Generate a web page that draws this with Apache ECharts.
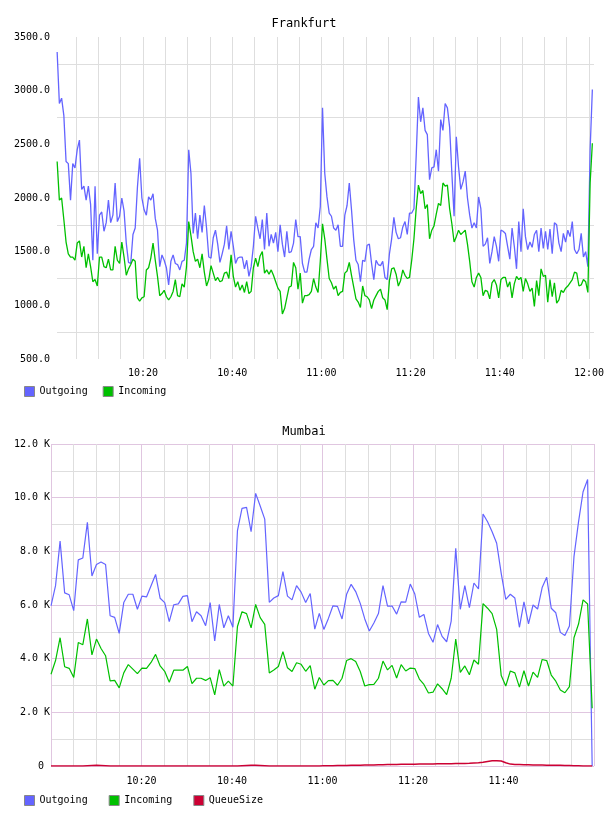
<!DOCTYPE html>
<html>
<head>
<meta charset="utf-8">
<script src="https://cdn.jsdelivr.net/npm/echarts@6/dist/echarts.min.js"></script>
<style>
  html, body { margin: 0; padding: 0; background: #fff; }
  #main { width: 608px; height: 816px; }
</style>
</head>
<body>
<div id="main"></div>
<script>
// x values are minutes after 10:00

// Frankfurt: a sample every 30 s, first one at 10:00:45
const frankStart = 0.75;
const frankStep = 0.5;
const frankOut = [
  3360,2880,2930,2770,2340,2320,1980,2320,2280,2450,
  2540,2080,2110,1980,2110,1940,1420,2110,1480,1840,
  1870,1690,1770,1980,1770,1840,2140,1780,1830,2000,
  1880,1580,1400,1390,1660,1720,2100,2370,2000,1890,
  1840,2010,1980,2040,1810,1700,1360,1470,1420,1350,
  1190,1410,1470,1390,1380,1330,1410,1420,1580,2450,
  2230,1670,1860,1620,1840,1680,1930,1720,1450,1440,
  1630,1700,1570,1400,1480,1570,1740,1520,1690,1550,
  1390,1440,1450,1450,1340,1420,1270,1360,1550,1830,
  1720,1620,1800,1520,1860,1550,1660,1580,1680,1500,
  1750,1570,1450,1690,1490,1500,1580,1800,1640,1640,
  1390,1310,1310,1430,1520,1550,1770,1720,1920,2840,
  2230,2010,1860,1830,1720,1700,1750,1550,1550,1840,
  1930,2140,1890,1610,1420,1380,1220,1420,1410,1560,
  1570,1390,1240,1420,1380,1370,1410,1260,1240,1480,
  1620,1820,1680,1620,1630,1730,1780,1660,1860,1860,
  1900,2390,2940,2710,2840,2630,2590,2170,2280,2290,
  2450,2250,2730,2630,2880,2840,2660,2230,1830,2570,
  2290,2080,2150,2250,2000,1840,1720,1770,1720,2010,
  1900,1550,1570,1630,1390,1500,1640,1550,1410,1700,
  1690,1670,1550,1430,1720,1550,1340,1780,1500,1900,
  1640,1520,1590,1540,1660,1700,1500,1720,1530,1690,
  1520,1710,1480,1770,1750,1580,1500,1670,1590,1700,
  1640,1780,1520,1480,1520,1670,1450,1500,1360,2450,
  3010
];
const frankIn = [
  2340,1980,2000,1800,1590,1480,1450,1450,1420,1580,
  1600,1450,1550,1350,1480,1360,1220,1240,1180,1450,
  1450,1360,1350,1430,1330,1330,1550,1420,1390,1590,
  1450,1280,1340,1380,1430,1410,1070,1040,1070,1080,
  1330,1350,1440,1580,1420,1270,1090,1110,1140,1080,
  1050,1080,1130,1240,1090,1080,1200,1170,1360,1780,
  1650,1500,1410,1430,1350,1480,1310,1180,1240,1370,
  1300,1230,1260,1220,1230,1300,1310,1250,1470,1270,
  1170,1220,1140,1190,1120,1220,1110,1130,1350,1440,
  1360,1460,1500,1300,1330,1290,1330,1280,1220,1160,
  1130,920,970,1070,1170,1180,1400,1350,1150,1300,
  1020,1090,1090,1100,1130,1250,1170,1120,1410,1760,
  1620,1430,1250,1210,1150,1180,1090,1120,1130,1300,
  1320,1400,1280,1170,1060,1030,980,1180,1090,1080,
  1050,970,1050,1090,1130,1150,1070,1050,960,1230,
  1340,1350,1290,1180,1230,1330,1280,1250,1260,1420,
  1620,1900,2120,2040,2070,1900,1940,1620,1700,1740,
  1850,1950,1930,2140,2110,2120,1900,1760,1590,1640,
  1700,1660,1680,1700,1570,1410,1220,1170,1260,1300,
  1260,1090,1140,1130,1060,1210,1240,1190,1070,1240,
  1260,1260,1170,1220,1070,1200,1270,1240,1260,1130,
  1250,1200,1130,1160,990,1230,1090,1340,1270,1280,
  1030,1240,1080,1210,1020,1050,1140,1120,1160,1180,
  1210,1240,1310,1300,1180,1190,1240,1220,1120,2140,
  2510
];

// Mumbai: a sample about every minute from 10:00
const mumbaiStart = 0;
const mumbaiStep = 1.005;
const mumbaiOut = [
  5970,6720,8380,6450,6380,5790,7680,7750,9080,7080,
  7510,7600,7510,5600,5540,4940,6090,6400,6400,5840,
  6330,6300,6720,7140,6250,6090,5380,6010,6040,6320,
  6350,5380,5750,5600,5230,6090,4660,6020,5150,5600,
  5170,8770,9600,9640,8730,10160,9690,9200,6100,6260,
  6350,7240,6330,6190,6720,6480,6090,6430,5100,5690,
  5090,5500,5970,5950,5480,6400,6770,6500,6060,5480,
  5030,5330,5680,6720,5960,5960,5660,6120,6110,6780,
  6410,5540,5650,4940,4610,5270,4830,4630,5400,8110,
  5840,6720,5900,6820,6600,9390,9100,8730,8300,7180,
  6210,6400,6260,5170,6120,5300,6000,5850,6650,7030,
  5880,5710,4980,4860,5220,7800,9100,10220,10680,0
];
const mumbaiIn = [
  3420,3930,4780,3700,3640,3300,4600,4520,5480,4140,
  4730,4380,4110,3170,3190,2910,3470,3780,3610,3440,
  3650,3640,3860,4160,3730,3530,3120,3570,3570,3570,
  3710,3070,3270,3270,3190,3290,2650,3590,2980,3160,
  2980,5200,5750,5680,5150,6020,5530,5280,3470,3580,
  3710,4260,3660,3520,3850,3790,3530,3740,2860,3300,
  3020,3180,3190,3010,3270,3930,4000,3890,3520,2980,
  3030,3040,3270,3910,3580,3750,3280,3780,3540,3650,
  3630,3240,3040,2720,2750,3060,2880,2660,3270,4730,
  3490,3730,3400,3950,3790,6050,5880,5680,5090,3370,
  2980,3540,3470,2940,3550,2980,3500,3300,3970,3930,
  3390,3160,2830,2730,2960,4780,5290,6190,6040,2150
];
const mumbaiQueue = [
  0,0,0,0,0,0,0,0,10,20,
  30,20,10,0,0,0,0,0,0,0,
  0,0,0,0,0,0,0,0,0,0,
  0,0,0,0,0,0,0,0,0,0,
  0,0,10,20,30,30,20,10,0,0,
  0,0,0,0,0,0,0,0,0,0,
  5,10,10,15,20,20,25,30,30,35,
  40,40,45,50,55,60,60,65,65,65,
  65,70,70,75,75,80,80,85,85,90,
  90,95,100,110,120,140,170,195,200,185,
  120,70,60,55,50,45,40,38,35,32,
  30,27,24,20,16,12,8,4,0,0
];

const frankTickMinutes = [5,10,15,20,25,30,35,40,45,50,55,60,65,70,75,80,85,90,95,100,105,110,115,120];
const frankLabelMinutes = [20, 40, 60, 80, 100, 120];
const mumbaiLabelMinutes = [20, 40, 60, 80, 100];

const FONT = 'DejaVu Sans Mono';
const GRAY = '#dedede';
const PINK = '#e0c6e0';
const BLUE = '#6464ff';
const GREEN = '#00c000';
const RED = '#cc0033';

function hhmm(m) {
  const h = 10 + Math.floor(m / 60);
  const mm = Math.round(m % 60);
  return h + ':' + String(mm).padStart(2, '0');
}
function pairs(start, step, arr) {
  return arr.map((v, i) => [start + i * step, v]);
}

const txt = { fontFamily: FONT, fontSize: 10, color: '#000' };

const myChart = echarts.init(document.getElementById('main'));
const option = {
  animation: false,
  textStyle: { fontFamily: FONT },
  title: [
    { text: 'Frankfurt', left: 'center', top: 13, textStyle: { fontFamily: FONT, fontSize: 12, fontWeight: 'normal', color: '#000' } },
    { text: 'Mumbai', left: 'center', top: 421, textStyle: { fontFamily: FONT, fontSize: 12, fontWeight: 'normal', color: '#000' } }
  ],
  legend: [
    {
      data: ['Outgoing', 'Incoming'], left: 24, top: 386, padding: 0, itemGap: 15,
      itemWidth: 10, itemHeight: 10, icon: 'rect', selectedMode: false,
      itemStyle: { borderColor: '#888', borderWidth: 1 }, textStyle: txt
    },
    {
      data: ['Outgoing', 'Incoming', 'QueueSize'], left: 24, top: 795, padding: 0, itemGap: 21,
      itemWidth: 10, itemHeight: 10, icon: 'rect', selectedMode: false,
      itemStyle: { borderColor: '#888', borderWidth: 1 }, textStyle: txt
    }
  ],
  grid: [
    { left: 57, right: 14, top: 37, height: 322 },
    { left: 51, right: 14, top: 444, height: 322 }
  ],
  xAxis: [
    {
      type: 'value', gridIndex: 0, min: 0.717, max: 121.12,
      axisLine: { show: false },
      axisTick: { show: false, customValues: frankTickMinutes },
      axisLabel: { customValues: frankLabelMinutes, formatter: hhmm, margin: 9, ...txt },
      splitLine: { show: true, lineStyle: { color: GRAY, width: 1 } }
    },
    {
      type: 'value', gridIndex: 1, min: 0, max: 120, interval: 5,
      axisLine: { show: false },
      axisTick: { show: false },
      axisLabel: { customValues: mumbaiLabelMinutes, formatter: hhmm, margin: 10, ...txt },
      splitLine: { show: true, lineStyle: { color: [PINK, GRAY, GRAY, GRAY], width: 1 } }
    }
  ],
  yAxis: [
    {
      type: 'value', gridIndex: 0, min: 500, max: 3500, interval: 250,
      axisLine: { show: false }, axisTick: { show: false },
      axisLabel: { formatter: v => (v % 500 === 0 ? v.toFixed(1) : ''), margin: 7, ...txt },
      splitLine: { show: true, lineStyle: { color: ['rgba(0,0,0,0)', GRAY], width: 1 } }
    },
    {
      type: 'value', gridIndex: 1, min: 0, max: 12000, interval: 1000,
      axisLine: { show: false }, axisTick: { show: false },
      axisLabel: {
        formatter: v => (v === 0 ? '0 ' : (v % 2000 === 0 ? (v / 1000).toFixed(1) + ' K' : '')),
        margin: 1, ...txt
      },
      splitLine: { show: true, lineStyle: { color: [PINK, GRAY], width: 1 } }
    }
  ],
  series: [
    { name: 'Outgoing', type: 'line', xAxisIndex: 0, yAxisIndex: 0, data: pairs(frankStart, frankStep, frankOut),
      symbol: 'none', color: BLUE, lineStyle: { width: 1.3, color: BLUE }, silent: true },
    { name: 'Incoming', type: 'line', xAxisIndex: 0, yAxisIndex: 0, data: pairs(frankStart, frankStep, frankIn),
      symbol: 'none', color: GREEN, lineStyle: { width: 1.3, color: GREEN }, silent: true },
    { name: 'Outgoing', type: 'line', xAxisIndex: 1, yAxisIndex: 1, data: pairs(mumbaiStart, mumbaiStep, mumbaiOut),
      symbol: 'none', color: BLUE, lineStyle: { width: 1.2, color: BLUE }, silent: true },
    { name: 'Incoming', type: 'line', xAxisIndex: 1, yAxisIndex: 1, data: pairs(mumbaiStart, mumbaiStep, mumbaiIn),
      symbol: 'none', color: GREEN, lineStyle: { width: 1.2, color: GREEN }, silent: true },
    { name: 'QueueSize', type: 'line', xAxisIndex: 1, yAxisIndex: 1, data: pairs(mumbaiStart, mumbaiStep, mumbaiQueue),
      symbol: 'none', color: RED, lineStyle: { width: 1.5, color: RED }, silent: true }
  ]
};
myChart.setOption(option);
</script>
</body>
</html>
